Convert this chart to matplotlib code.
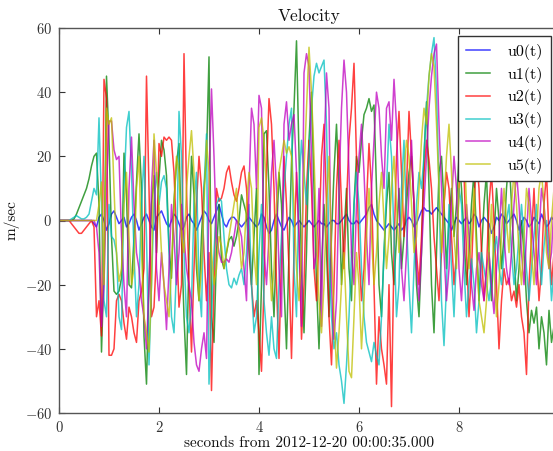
import numpy as np
import matplotlib
matplotlib.use("Agg")
import matplotlib.pyplot as plt

# time grid: 0.00 .. 9.95 s, 0.05 s step
t = np.arange(200) * 0.05

u0 = [0,0,0,0,0,0,0,0,0,0,
      0,0,0,0,-1,-2,1,2,0,-3,
      -1,2,3,1,-1,0,1,-2,-1,1,
      2,0,-3,-1,1,2,0,-2,-3,1,
      2,3,1,-1,-2,0,2,1,-1,-3,
      -2,1,2,0,-1,-3,-1,1,3,2,
      0,-1,1,3,5,2,-1,-2,0,1,
      1,0,-1,-2,-1,0,1,0,-1,-2,
      -1,2,1,-2,-4,-3,0,2,0,-2,
      -3,-1,1,0,-2,-1,0,-1,-2,-1,
      0,-1,-2,-1,0,-1,-1,-2,-1,0,
      0,-1,-1,0,1,2,0,-1,-1,0,
      -1,0,1,2,4,5,2,0,-1,-2,
      -3,-2,-1,-2,-3,-2,-1,-3,-2,0,
      1,0,-2,-1,1,3,4,3,3,2,
      3,4,3,2,1,0,-1,-3,-1,1,
      0,-1,0,1,-1,0,2,1,-2,0,
      1,0,-1,-4,-2,1,0,2,1,-1,
      0,1,2,0,-3,-1,1,0,-2,-1,
      1,0,-1,2,0,-2,-1,1,0,-2]

u1 = [0,0,0,0,0,0,0.5,2,4,6,
      8,10,13,17,20,21,5,-41,-15,45,
      25,-5,-22,-23,-22,-18,21,8,-20,-21,
      -5,12,27,10,-36,-51,-20,5,14,-10,
      13,25,22,14,-8,-18,6,18,24,-5,
      -30,-48,-10,20,8,-15,-25,-5,10,20,
      51,-30,-38,-10,5,-12,-15,-10,-6,-5,
      -8,-5,0,8,5,2,-10,-20,-5,10,
      -48,-20,27,28,10,-15,-30,-5,15,5,
      -20,-40,-10,18,35,56,20,-15,-35,-10,
      25,40,10,-20,-40,-15,5,-10,-30,-5,
      15,30,10,-20,-5,10,-15,-25,5,20,
      15,25,33,35,38,34,36,10,-20,-30,
      -10,5,15,-10,-20,-5,10,-15,-5,5,
      15,20,5,-20,-30,-10,20,37,10,-20,
      -35,-10,15,20,5,-15,0,10,-5,5,
      20,10,-5,-20,-10,5,15,-5,-25,-10,
      5,15,-10,-25,-5,10,0,-15,-5,10,
      20,5,-10,-25,-15,0,-10,-25,-35,-28,
      -32,-27,-40,-30,-35,-45,-28,-38,-33,-30]

u2 = [0,0,0,0,0,-1,-2,-3,-4,-4,
      -3,-2,-1,0,-2,-30,-25,-36,44,38,
      -42,-42,-40,-25,-23,-25,-32,-37,-27,-30,
      -35,-38,-25,-22,-15,45,10,-30,-27,-10,
      24,20,26,25,26,25,15,-5,-27,-20,
      52,10,-20,-41,-15,5,20,10,-10,-25,
      -10,-53,-20,10,6,7,10,15,17,12,
      8,6,10,15,17,10,-5,-20,-30,-25,
      -35,-47,-20,15,38,30,10,-20,-43,-10,
      20,5,-15,-43,-10,15,-5,-37,-20,10,
      25,10,-15,-25,-5,20,30,5,-30,-45,
      -20,10,25,5,-15,5,25,35,49,20,
      -10,-25,-15,5,24,10,-20,-51,-30,-40,
      -45,-51,-20,-58,-10,20,34,15,-5,10,
      34,20,5,-10,-20,-5,15,25,19,10,
      -5,-15,-25,-10,5,15,10,-5,-20,-10,
      10,25,15,-10,-30,-15,5,20,10,-10,
      -25,-15,5,15,0,-20,-40,-25,-15,-20,
      -18,-25,-22,-27,-20,-30,-35,-48,-20,-5,
      10,-10,-25,-15,5,15,-5,-20,-10,5]

u3 = [0,0,0,0,0,0.5,1,1.5,1,0.5,
      0.5,1,2,6,10,8,32,5,-25,-30,
      5,-5,-6,-10,-30,-34,10,29,34,15,
      -10,-30,-20,5,20,-5,-45,-20,5,15,
      5,12,14,10,-10,-30,-35,-15,34,20,
      -10,-30,-35,-25,5,15,-20,-30,10,27,
      -51,-30,-10,5,7,6,-5,-15,-20,-21,
      -18,-20,-17,-15,-20,-10,5,-20,-35,-30,
      -10,5,-25,-35,-42,-30,-40,-43,-20,-5,
      10,20,30,35,-15,-30,10,25,15,5,
      20,35,45,49,46,48,50,30,-10,-30,
      -40,-35,-45,-50,-57,-45,-30,-10,5,15,
      5,-15,-30,-38,-41,-44,-38,-42,-45,-30,
      -10,10,30,20,-5,-30,-20,10,25,0,
      -20,-35,-15,5,15,10,20,35,45,52,
      57,40,10,-25,-39,-20,5,-15,-30,-10,
      10,5,-15,-30,-20,-12,-20,-35,-25,-10,
      -15,-20,-25,-18,-10,-5,-15,-20,-10,0,
      5,-10,-20,-15,-5,5,-5,-15,-25,-15,
      -5,5,-10,-20,-8,0,-10,-25,-15,-5]

u4 = [0,0,0,0,0,0,0,0,0,0,
      0,0,0,0,0,-2,-10,-33,-20,10,
      31,31,22,19,20,-5,-20,-30,10,26,
      5,-10,-15,-25,-30,-40,-20,10,25,-15,
      -25,-10,-20,-34,-15,5,-5,-20,-10,5,
      -5,-15,-20,-25,-38,-45,-47,-40,-35,-43,
      10,41,20,-5,-10,-13,-13,-12,-13,-10,
      -5,0,-2,-5,-15,-25,10,35,30,10,
      39,35,-10,-20,-5,15,25,10,-15,-30,
      30,37,25,30,33,15,-5,-33,46,52,
      48,20,-15,-10,10,-33,20,46,35,-20,
      -37,-25,10,35,50,40,15,-10,-20,5,
      20,30,15,-5,-20,10,25,40,35,20,
      10,35,37,25,44,30,5,-15,-25,-10,
      10,25,5,-15,-25,-10,5,20,35,45,
      52,55,30,10,-10,-25,-15,5,20,10,
      -15,-25,-10,5,-5,-20,-28,-15,-10,-20,
      -25,-15,-10,-20,-29,-15,-5,10,-5,-15,
      -20,-10,5,15,5,-10,-20,-5,10,0,
      -10,-20,-5,10,5,-5,-15,-10,5,0]

u5 = [0,0,0,0,0,0,0,0,0,0,
      0,0,0,0,0,0,5,12,-20,35,
      30,32,10,-10,-19,-15,5,15,-5,-20,
      -15,10,20,-10,-30,-35,-41,-20,27,15,
      5,-10,-20,-25,-30,-15,5,20,15,-5,
      -10,10,20,28,15,-10,-25,-15,5,25,
      15,-10,-20,-15,-5,-8,-15,-10,-5,0,
      5,10,-5,-15,-10,5,15,10,-10,-20,
      29,32,25,10,-10,-25,-15,5,15,20,
      25,21,23,20,5,-15,-25,-10,15,35,
      54,40,20,-5,-25,-35,-20,5,20,-10,
      -30,-46,-35,-20,-10,-30,-47,-49,-30,-10,
      -20,-40,-25,-5,10,-5,-20,-10,5,15,
      0,-15,-5,10,20,5,-10,0,15,25,
      20,5,-10,-5,10,25,35,30,45,52,
      48,30,10,-10,5,20,30,15,-5,-15,
      10,30,25,5,-15,-5,10,-10,-25,-30,
      -35,-25,-10,5,-15,-30,-20,-5,10,0,
      -10,5,15,5,-10,-20,-5,10,5,-10,
      -20,-5,10,15,5,-10,-15,0,10,5]

series = [u0, u1, u2, u3, u4, u5]
labels = ["u0(t)", "u1(t)", "u2(t)", "u3(t)", "u4(t)", "u5(t)"]
colors = ["#0000ff", "#008000", "#ff0000", "#00bfbf", "#bf00bf", "#bfbf00"]

plt.rcParams["font.family"] = ["cmr10", "DejaVu Serif"]
plt.rcParams["mathtext.fontset"] = "cm"
plt.rcParams["axes.formatter.use_mathtext"] = True

fig = plt.figure(figsize=(5.53, 4.51), dpi=100)
ax = fig.add_axes([59/553, 38/451, 500/553, 385/451])

for y, lab, c in zip(series, labels, colors):
    ax.plot(t, y, color=c, lw=1.1, alpha=0.75, label=lab)

ax.set_xlim(0, 10)
ax.set_ylim(-60, 60)
ax.set_xticks([0, 2, 4, 6, 8])
ax.set_yticks([-60, -40, -20, 0, 20, 40, 60])
ax.tick_params(direction="in", top=True, right=True, length=4, width=0.8,
               labelsize=10.5, colors="#333333", labelcolor="#333333", pad=5)
for s in ax.spines.values():
    s.set_color("#555555")
    s.set_linewidth(1.0)

ax.set_title("Velocity", fontsize=12.5, pad=5, color="#111111")
ax.set_xlabel("seconds from 2012-12-20 00:00:35.000", fontsize=11, labelpad=1,
              color="#111111")
ax.set_ylabel("m/sec", fontsize=11, labelpad=4, color="#111111")

leg = ax.legend(loc="upper right", fontsize=11.5, handlelength=1.5,
                fancybox=False, framealpha=1, edgecolor="#333333",
                borderaxespad=0.5, labelspacing=0.42, handletextpad=1.1,
                borderpad=0.5)
leg.get_frame().set_linewidth(1.0)

fig.savefig("out.png", dpi=100)
